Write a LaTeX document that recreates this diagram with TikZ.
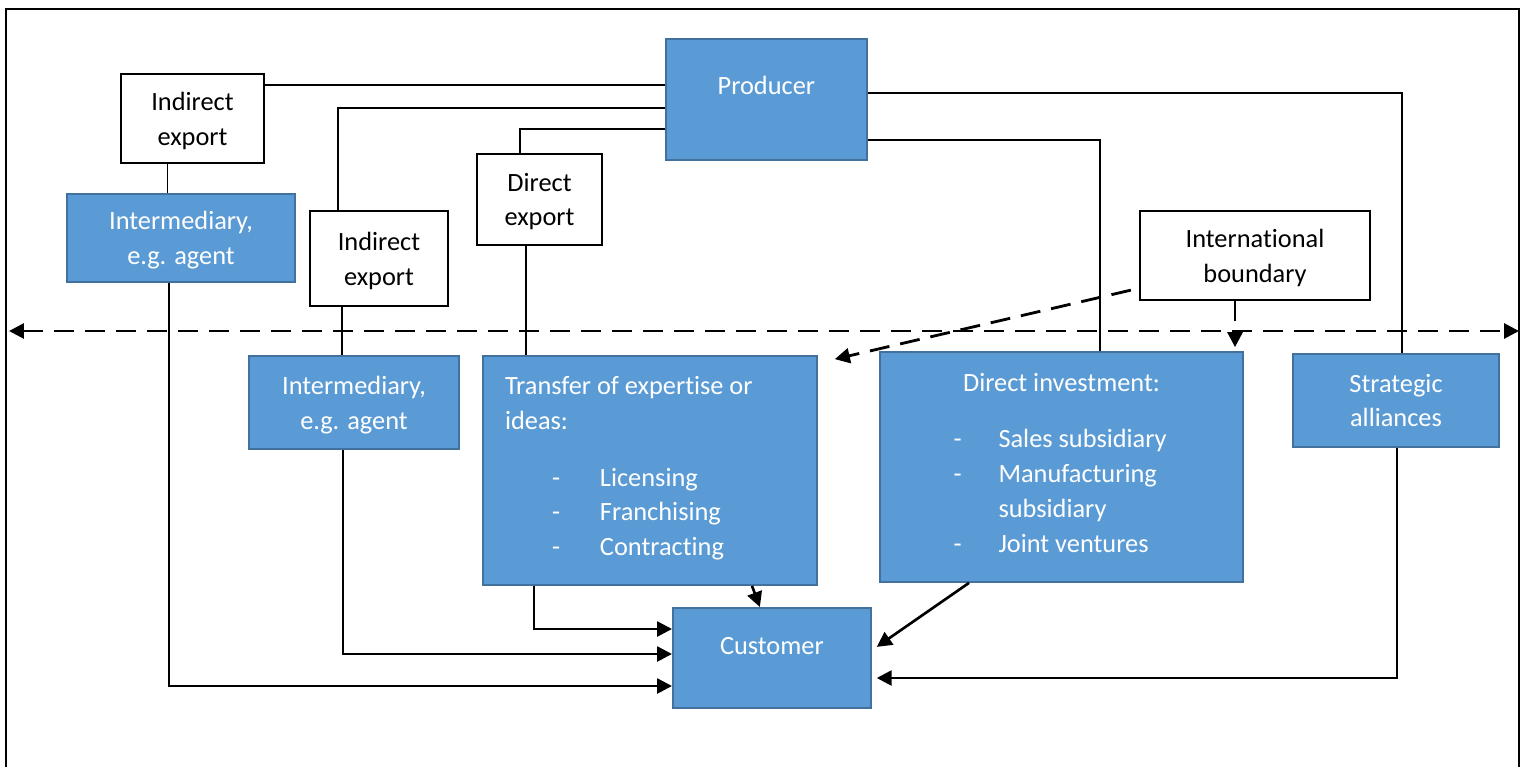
\documentclass[tikz,border=0pt]{standalone}
\usepackage{fontspec}
\setmainfont{Carlito}[Ligatures=NoCommon]
\usetikzlibrary{arrows.meta}
\definecolor{boxblue}{HTML}{5B9BD5}
\definecolor{boxline}{HTML}{41719C}

\begin{document}
\begin{tikzpicture}[x=0.02cm, y=-0.02cm,  % 一个单位就是参考图里的一个像素, y 向下
  >={Triangle[length=0.3cm,width=0.3cm]},
  every node/.style={font=\fontsize{15}{19.8}\selectfont},
  bluebox/.style={draw=boxline, fill=boxblue, line width=1pt, text=white, align=center},
  whitebox/.style={draw=black, fill=white, line width=1.3pt, align=center},
  conn/.style={line width=1.1pt},
  arr/.style={line width=1.5pt, ->},
  darr/.style={line width=1.6pt, dash pattern=on 0.4cm off 0.22cm, ->}]

  % 固定画布大小
  \useasboundingbox (0,0) rectangle (1523,767);

  % 外框,下边被裁掉了
  \draw[line width=1.2pt] (6,767) -- (6,9) -- (1519,9) -- (1519,767);

  % 上面的方框, text depth=0pt 让字稍微往下一点
  \node[bluebox, anchor=north west, minimum width=4.02cm, inner ysep=0pt,
        text height=1.12cm, text depth=1.30cm] (prod) at (665,38) {Producer};
  \node[whitebox, text depth=0pt, minimum width=2.86cm, minimum height=1.78cm] (ie1) at (192.5,118.5) {Indirect\\export};
  \node[bluebox, text depth=0pt, minimum width=4.56cm, minimum height=1.76cm] (int1) at (181,238) {Intermediary,\\e.g. agent};
  \node[whitebox, text depth=0pt, minimum width=2.76cm, minimum height=1.9cm] (ie2) at (379,258.5) {Indirect\\export};
  \node[whitebox, text depth=0pt, minimum width=2.5cm, minimum height=1.82cm] (dex) at (539.5,199.5) {Direct\\export};
  \node[whitebox, text depth=0pt, minimum width=4.6cm, minimum height=1.78cm] (ib) at (1255,255.5) {International\\boundary};

  % 边界下面的方框
  \node[bluebox, text depth=0pt, minimum width=4.2cm, minimum height=1.86cm] (int2) at (354,402.5) {Intermediary,\\e.g. agent};
  \node[bluebox, align=left, text depth=0.18cm, minimum width=6.68cm, minimum height=4.58cm] (trans) at (650,470.5)
    {\makebox[5.8cm][l]{Transfer of expertise or}\\ideas:\\[0.44cm]
     \hspace*{0.94cm}\makebox[0.96cm][l]{-}Licensing\\
     \hspace*{0.94cm}\makebox[0.96cm][l]{-}Franchising\\
     \hspace*{0.94cm}\makebox[0.96cm][l]{-}Contracting};
  \node[bluebox, align=left, text depth=0.16cm, minimum width=7.26cm, minimum height=4.6cm] (dinv) at (1061.5,467)
    {\makebox[4.32cm][c]{Direct investment:}\\[0.42cm]
     \makebox[0.9cm][l]{-}Sales subsidiary\\
     \makebox[0.9cm][l]{-}Manufacturing\\
     \hspace*{0.9cm}subsidiary\\
     \makebox[0.9cm][l]{-}Joint ventures};
  \node[bluebox, minimum width=4.12cm, minimum height=1.86cm] (sa) at (1396,400.5) {Strategic\\alliances};
  \node[bluebox, anchor=north west, minimum width=3.96cm, inner ysep=0pt,
        text height=0.94cm, text depth=1.06cm] (cust) at (672,607) {Customer};

  % 国界线, 两头都有箭头
  \coordinate (bl) at (9,331);
  \coordinate (br) at (1519,331);
  \draw[darr, <->] (bl) -- (br);

  % Producer 出去的线
  \draw[conn] (ie1.east |- 0,85) -- (prod.west |- 0,85);
  \draw[conn] (prod.west |- 0,108) -| ([xshift=-0.82cm]ie2.north);
  \draw[conn] (prod.west |- 0,129) -| ([xshift=-0.39cm]dex.north);
  \draw[conn] (prod.east |- 0,93) -| ([xshift=0.12cm]sa.north);
  \draw[conn] (prod.east |- 0,140) -| ([xshift=0.77cm]dinv.north);

  % 上下方框之间的竖线
  \draw[conn] ([xshift=-0.5cm]ie1.south) -- ([xshift=-0.5cm]ie1.south |- int1.north);
  \draw[conn] ([xshift=-0.74cm]ie2.south) -- ([xshift=-0.74cm]ie2.south |- int2.north);
  \draw[conn] ([xshift=-0.27cm]dex.south) -- ([xshift=-0.27cm]dex.south |- trans.north);

  % 到 Customer 的箭头
  \draw[arr] ([xshift=-0.24cm]int1.south) |- (cust.west |- 0,686);
  \draw[arr] ([xshift=-0.22cm]int2.south) |- (cust.west |- 0,654);
  \draw[arr] ([xshift=-2.32cm]trans.south) |- (cust.west |- 0,629);
  \draw[arr] ([xshift=2.04cm]trans.south) -- ([xshift=-0.24cm]cust.north);
  \draw[arr] ([xshift=-1.85cm]dinv.south) -- ([xshift=0.1cm,yshift=0.22cm]cust.east);
  \draw[arr] ([xshift=0.02cm]sa.south) |- ([xshift=0.1cm]cust.east |- 0,678);

  % International boundary 的虚线箭头
  \draw[darr] ([xshift=-0.4cm]ib.south) -- ([xshift=-0.4cm,yshift=0.08cm]ib.south |- dinv.north);
  \draw[darr] ([xshift=-0.16cm,yshift=0.22cm]ib.south west) -- ([xshift=0.34cm,yshift=-0.08cm]trans.north east);

\end{tikzpicture}
\end{document}
